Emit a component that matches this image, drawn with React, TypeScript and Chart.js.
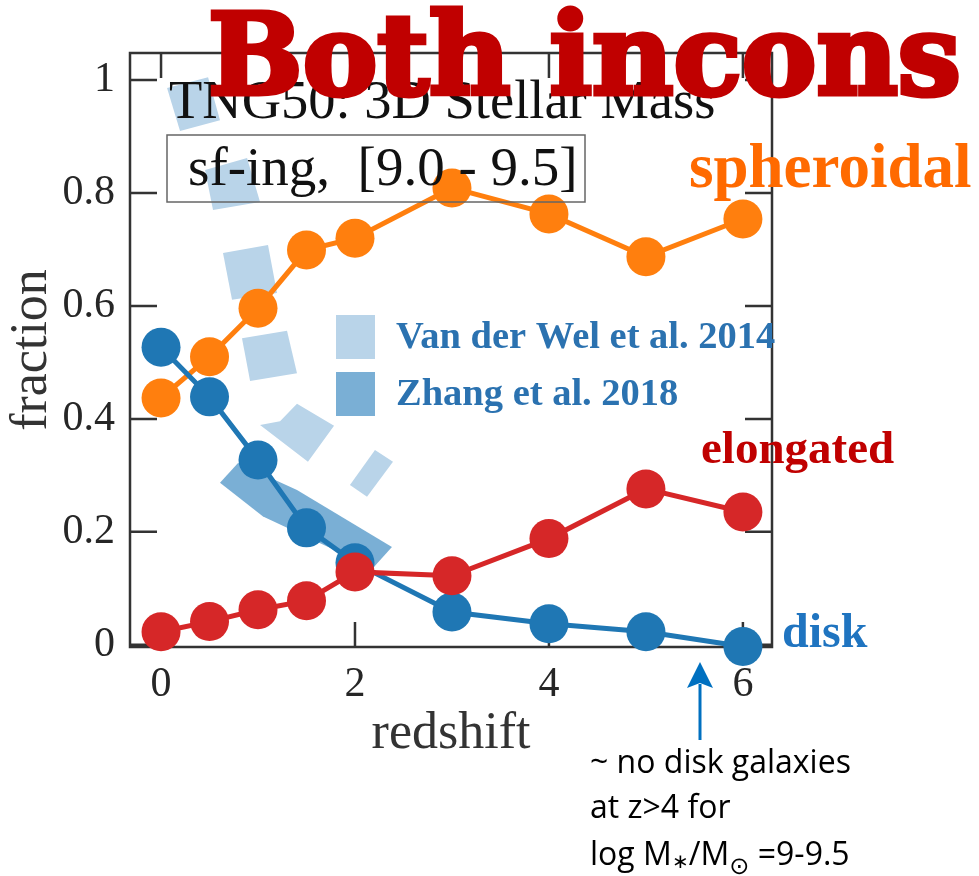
import React, { useEffect, useRef } from 'react';
import { Chart, registerables } from 'chart.js';

Chart.register(...registerables);

// ---- data ----
const redshift = [0, 0.5, 1, 1.5, 2, 3, 4, 5, 6];
const spheroidal = [0.437, 0.51, 0.596, 0.699, 0.72, 0.809, 0.763, 0.687, 0.754];
const disk = [0.527, 0.439, 0.327, 0.207, 0.145, 0.058, 0.037, 0.023, -0.003];
const elongated = [0.023, 0.041, 0.062, 0.078, 0.129, 0.122, 0.188, 0.276, 0.235];

const xTicks = [0, 2, 4, 6];
const yTicks = [0, 0.2, 0.4, 0.6, 0.8, 1];
const xRange = [-0.32, 6.3];
const yRange = [-0.004, 1.048];

// Van der Wel et al. 2014 regions (polygon vertices, [redshift, fraction])
const vdwPatchA: [number, number][] = [[0.062, 0.986], [0.485, 1.005], [0.608, 0.929], [0.196, 0.91]];
const vdwPatchB: [number, number][] = [[0.454, 0.841], [0.887, 0.862], [1.021, 0.784], [0.536, 0.77]];
const vdwPatchC: [number, number][] = [[0.639, 0.694], [1.103, 0.708], [1.196, 0.623], [0.732, 0.611]];
const vdwPatchD: [number, number][] = [[0.835, 0.543], [1.299, 0.556], [1.402, 0.481], [0.918, 0.467]];
const vdwPatchE: [number, number][] = [[1.021, 0.389], [1.227, 0.396], [1.402, 0.427], [1.784, 0.388], [1.515, 0.324]];
const vdwPatchF: [number, number][] = [[1.948, 0.283], [2.206, 0.345], [2.392, 0.324], [2.124, 0.262]];
// Zhang et al. 2018 band
const zhangBand: [number, number][] = [[0.794, 0.322], [1.402, 0.274], [2.381, 0.173], [2.186, 0.136], [1.052, 0.227], [0.608, 0.287]];

const seriesLabels = ['spheroidal', 'elongated', 'disk'];
const legendLabels = ['Van der Wel et al. 2014', 'Zhang et al. 2018'];

const COL_SPH = '#ff7f0e';
const COL_DISK = '#1f77b4';
const COL_ELO = '#d62728';
const COL_VDW = '#b9d4e9';
const COL_ZH = '#7aafd5';

const SERIF = "'Liberation Serif', 'Times New Roman', serif";

const toPts = (xs: number[], ys: number[]) => xs.map((x, i) => ({ x, y: ys[i] }));
const closePoly = (p: [number, number][]) => [...p, p[0]].map(([x, y]) => ({ x, y }));

const framePlugin = {
  id: 'frame',
  beforeDatasetsDraw(chart: any) {
    const { ctx, chartArea } = chart;
    const { left, right, top, bottom } = chartArea;
    const xs = chart.scales.x;
    const ys = chart.scales.y;
    ctx.save();
    ctx.strokeStyle = '#333';
    ctx.lineWidth = 2.5;
    ctx.strokeRect(left, top, right - left, bottom - top);
    ctx.beginPath();
    for (const t of xTicks) {
      const px = xs.getPixelForValue(t);
      ctx.moveTo(px, bottom);
      ctx.lineTo(px, bottom - 25);
      ctx.moveTo(px, top);
      ctx.lineTo(px, top + 25);
    }
    for (const t of yTicks) {
      const py = ys.getPixelForValue(t);
      ctx.moveTo(left, py);
      ctx.lineTo(left + 27, py);
      ctx.moveTo(right, py);
      ctx.lineTo(right - 27, py);
    }
    ctx.stroke();
    ctx.restore();
  },
};

const textPlugin = {
  id: 'texts',
  afterDraw(chart: any) {
    const { ctx } = chart;
    ctx.save();
    ctx.textBaseline = 'alphabetic';
    ctx.textAlign = 'left';

    // panel title and box
    ctx.fillStyle = '#111';
    ctx.font = `54.5px ${SERIF}`;
    ctx.fillText('TNG50: 3D Stellar Mass', 169, 118);
    ctx.strokeStyle = '#666';
    ctx.lineWidth = 1.5;
    ctx.strokeRect(167, 135, 418, 67);
    ctx.font = `55px ${SERIF}`;
    ctx.fillText('sf-ing,  [9.0 - 9.5]', 188, 185);

    // legend
    ctx.fillStyle = COL_VDW;
    ctx.fillRect(336, 315, 39, 44);
    ctx.fillStyle = COL_ZH;
    ctx.fillRect(336, 372, 39, 44);
    ctx.fillStyle = '#2b72b0';
    ctx.font = `bold 38.5px ${SERIF}`;
    ctx.fillText(legendLabels[0], 396, 348);
    ctx.fillText(legendLabels[1], 396, 405);

    // series labels
    ctx.fillStyle = '#ff6a00';
    ctx.font = `bold 63px ${SERIF}`;
    ctx.fillText(seriesLabels[0], 689, 187);
    ctx.fillStyle = '#c00000';
    ctx.font = `bold 47px ${SERIF}`;
    ctx.fillText(seriesLabels[1], 701, 463);
    ctx.fillStyle = '#1f74c0';
    ctx.font = `bold 48px ${SERIF}`;
    ctx.fillText(seriesLabels[2], 782, 647);

    // big headline (extra heavy slab look)
    ctx.fillStyle = '#c00000';
    ctx.strokeStyle = '#c00000';
    ctx.lineWidth = 5;
    ctx.lineJoin = 'miter';
    ctx.font = "bold 112px 'DejaVu Serif', serif";
    ctx.fillText('Both incons', 208, 94);
    ctx.strokeText('Both incons', 208, 94);

    // arrow
    ctx.strokeStyle = '#0070c0';
    ctx.fillStyle = '#0070c0';
    ctx.lineWidth = 3;
    ctx.beginPath();
    ctx.moveTo(700, 740);
    ctx.lineTo(700, 684);
    ctx.stroke();
    ctx.beginPath();
    ctx.moveTo(700, 662);
    ctx.lineTo(713, 688);
    ctx.lineTo(700, 683);
    ctx.lineTo(687, 688);
    ctx.closePath();
    ctx.fill();

    // note
    ctx.fillStyle = '#000';
    const NOTE = "'Open Sans', 'Noto Sans', sans-serif";
    ctx.font = `32px ${NOTE}`;
    ctx.fillText('~ no disk galaxies', 590, 773);
    ctx.fillText('at z>4 for', 590, 818);
    let x = 590;
    const y = 865;
    ctx.fillText('log M', x, y);
    x += ctx.measureText('log M').width;
    ctx.font = `20px ${NOTE}`;
    ctx.fillText('\u2217', x, y + 3);
    x += ctx.measureText('\u2217').width;
    ctx.font = `32px ${NOTE}`;
    ctx.fillText('/M', x, y);
    x += ctx.measureText('/M').width;
    ctx.font = "24px 'DejaVu Sans', sans-serif";
    ctx.fillText('\u2299', x, y + 9);
    x += ctx.measureText('\u2299').width;
    ctx.font = `32px ${NOTE}`;
    ctx.fillText(' =9-9.5', x, y);
    ctx.restore();
  },
};

export default function App() {
  const ref = useRef<HTMLCanvasElement>(null);

  useEffect(() => {
    if (!ref.current) return;
    const lineDs = (label: string, ys: number[], color: string, order: number) => ({
      type: 'line',
      label,
      data: toPts(redshift, ys),
      borderColor: color,
      backgroundColor: color,
      borderWidth: 5,
      pointRadius: 19.5,
      pointBorderWidth: 0,
      pointBackgroundColor: color,
      fill: false,
      clip: false,
      order,
    });
    const polyDs = (label: string, poly: [number, number][], color: string, order: number) => ({
      type: 'line',
      label,
      data: closePoly(poly),
      borderWidth: 0,
      borderColor: 'rgba(0,0,0,0)',
      backgroundColor: color,
      pointRadius: 0,
      fill: 'shape',
      tension: 0,
      clip: false,
      order,
    });

    const chart = new Chart(ref.current, {
      type: 'line',
      data: {
        datasets: [
          lineDs('elongated', elongated, COL_ELO, 1),
          lineDs('disk', disk, COL_DISK, 2),
          lineDs('spheroidal', spheroidal, COL_SPH, 3),
          polyDs('Zhang et al. 2018', zhangBand, COL_ZH, 5),
          polyDs('VdW A', vdwPatchA, COL_VDW, 6),
          polyDs('VdW B', vdwPatchB, COL_VDW, 6),
          polyDs('VdW C', vdwPatchC, COL_VDW, 6),
          polyDs('VdW D', vdwPatchD, COL_VDW, 6),
          polyDs('VdW E', vdwPatchE, COL_VDW, 6),
          polyDs('VdW F', vdwPatchF, COL_VDW, 6),
        ] as any,
      },
      options: {
        responsive: false,
        animation: false,
        layout: { padding: { left: 0, top: 53, right: 207, bottom: 0 } },
        plugins: { legend: { display: false }, tooltip: { enabled: false } },
        scales: {
          x: {
            type: 'linear',
            min: xRange[0],
            max: xRange[1],
            grid: { display: false, drawTicks: false },
            border: { display: false },
            afterBuildTicks: (s: any) => {
              s.ticks = xTicks.map((v) => ({ value: v }));
            },
            afterFit: (s: any) => {
              s.height = 229;
            },
            ticks: {
              autoSkip: false,
              maxRotation: 0,
              padding: 13,
              color: '#262626',
              font: { family: SERIF, size: 42 },
              callback: (v: any) => String(v),
            },
            title: {
              display: true,
              text: 'redshift',
              color: '#333',
              font: { family: SERIF, size: 52 },
              padding: { top: 0, bottom: 110 },
            },
          },
          y: {
            type: 'linear',
            min: yRange[0],
            max: yRange[1],
            grid: { display: false, drawTicks: false },
            border: { display: false },
            afterBuildTicks: (s: any) => {
              s.ticks = yTicks.map((v) => ({ value: v }));
            },
            afterFit: (s: any) => {
              s.width = 130;
            },
            ticks: {
              autoSkip: false,
              padding: 15,
              color: '#262626',
              font: { family: SERIF, size: 42 },
              callback: (v: any) => String(Math.round(v * 10) / 10),
            },
            title: {
              display: true,
              text: 'fraction',
              color: '#333',
              font: { family: SERIF, size: 52 },
              padding: { top: 1, bottom: 0 },
            },
          },
        },
      },
      plugins: [framePlugin, textPlugin],
    } as any);
    return () => chart.destroy();
  }, []);

  return (
    <div style={{ position: 'absolute', left: 0, top: 0, width: 979, height: 876, background: '#fff' }}>
      <canvas ref={ref} width={979} height={876} style={{ width: 979, height: 876 }} />
    </div>
  );
}
